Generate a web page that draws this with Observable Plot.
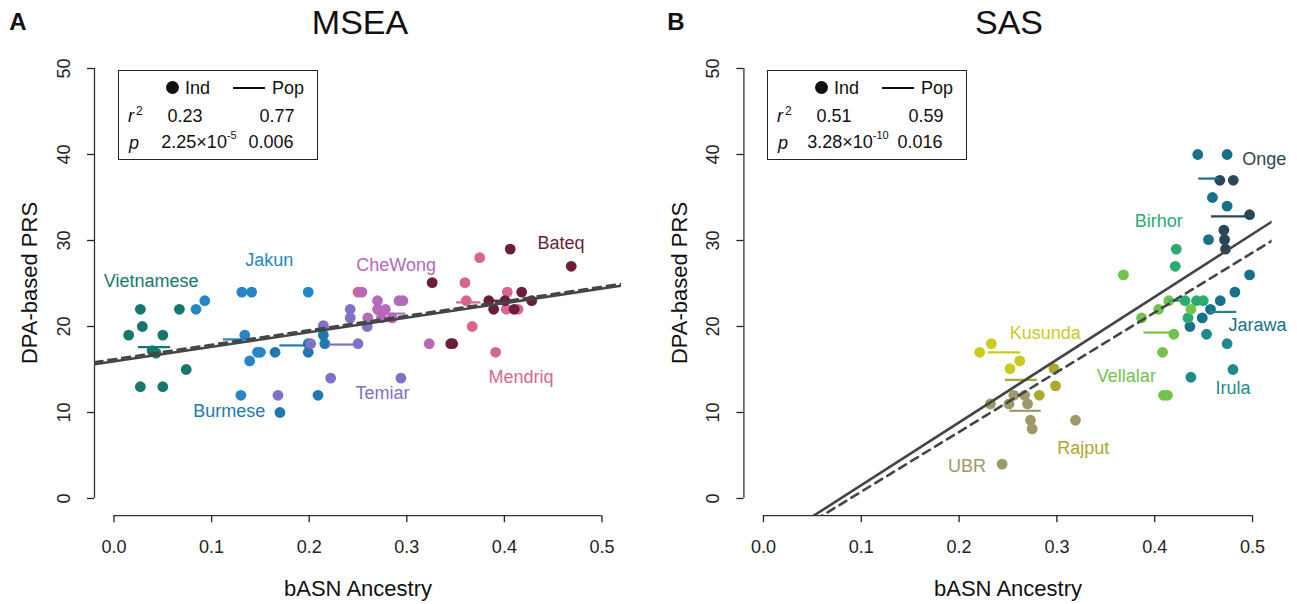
<!DOCTYPE html>
<html><head><meta charset="utf-8">
<script src="https://cdn.jsdelivr.net/npm/d3@7"></script>
<script src="https://cdn.jsdelivr.net/npm/@observablehq/plot@0.6"></script>
<style>
body{margin:0;background:#fff;font-family:"Liberation Sans",Arial,Helvetica,sans-serif;}
#root{position:relative;width:1297px;height:604px;overflow:hidden;background:#fff;}
.abs{position:absolute;white-space:nowrap;color:#111;line-height:1;}
.lg{position:absolute;border:1.5px solid #222;background:#fff;box-sizing:border-box;font-size:18px;color:#111;}
.lg div{position:absolute;white-space:nowrap;line-height:1;}
.lg sup{font-size:11px;position:relative;top:-3px;vertical-align:top;}
</style></head><body><div id="root"></div>
<script>
// ---------- shared axes ----------
const xTicks = [0, 0.1, 0.2, 0.3, 0.4, 0.5];
const yTicks = [0, 10, 20, 30, 40, 50];
const xDomain = [-0.02, 0.52];
const yDomain = [-2, 52];

// ---------- panel A : MSEA ----------
const mseaPops = ["Vietnamese","Jakun","Burmese","Temiar","Mendriq","CheWong","Bateq"];
const mseaColors = ["#16786d","#2486c6","#1f78b1","#7d72c6","#d8658f","#b469b9","#6b1e3c"];
const mseaIndPop = [
 "Vietnamese","Vietnamese","Vietnamese","Vietnamese","Vietnamese","Vietnamese","Vietnamese","Vietnamese","Vietnamese","Vietnamese",
 "Jakun","Jakun","Jakun","Jakun","Jakun","Jakun","Jakun","Jakun","Jakun","Jakun",
 "Burmese","Burmese","Burmese","Burmese","Burmese","Burmese","Burmese",
 "Temiar","Temiar","Temiar","Temiar","Temiar","Temiar","Temiar","Temiar","Temiar",
 "Mendriq","Mendriq","Mendriq","Mendriq","Mendriq","Mendriq","Mendriq","Mendriq","Mendriq",
 "CheWong","CheWong","CheWong","CheWong","CheWong","CheWong","CheWong","CheWong","CheWong","CheWong",
 "Bateq","Bateq","Bateq","Bateq","Bateq","Bateq","Bateq","Bateq","Bateq","Bateq","Bateq"];
const mseaIndX = [
 0.027,0.067,0.029,0.015,0.050,0.039,0.043,0.074,0.027,0.050,
 0.084,0.093,0.131,0.141,0.199,0.134,0.139,0.147,0.150,0.130,
 0.165,0.199,0.199,0.2145,0.216,0.170,0.209,
 0.2015,0.2145,0.250,0.222,0.294,0.168,0.242,0.242,0.2595,
 0.250,0.3747,0.3596,0.361,0.403,0.402,0.414,0.367,0.391,
 0.254,0.260,0.270,0.270,0.278,0.274,0.292,0.296,0.285,0.323,
 0.406,0.4685,0.326,0.345,0.347,0.4177,0.384,0.4006,0.389,0.410,0.428];
const mseaIndY = [
 22,22,20,19,19,17.2,16.9,15,13,13,
 22,23,24,24,24,19,16,17,17,12,
 17,18,17,19,18,10,12,
 18,20.1,18,14,14,12,22,21,20,
 24,28,25.1,23,24,22,22,20,17,
 24,21,23,22,22,21,23,23,21,18,
 29,27,25.1,18,18,24,23,23,22,22,23];
const mseaBarPop = ["Vietnamese","Jakun","Burmese","Temiar","CheWong","Mendriq","Bateq"];
const mseaBarX1 = [0.025,0.112,0.170,0.220,0.268,0.351,0.382];
const mseaBarX2 = [0.058,0.135,0.196,0.249,0.299,0.376,0.410];
const mseaBarY  = [17.6,18.5,17.8,17.9,21.5,22.8,23.0];
const mseaLabelPop = ["Vietnamese","Jakun","Burmese","CheWong","Temiar","Mendriq","Bateq"];
const mseaLabelX = [0.038,0.159,0.118,0.289,0.275,0.417,0.458];
const mseaLabelY = [25.3,27.7,10.2,27.1,12.2,14.1,29.7];
const mseaFitType = ["Pop","Ind"];
const mseaFitIntercept = [15.94,16.19];
const mseaFitSlope = [16.94,16.85];
const mseaR2 = ["0.23","0.77"];
const mseaP = ["2.25×10<sup>-5</sup>","0.006"];

// ---------- panel B : SAS ----------
const sasPops = ["Onge","Jarawa","Irula","Birhor","Vellalar","Kusunda","Rajput","UBR"];
const sasColors = ["#2c4659","#19708a","#1f8a8c","#2bab6f","#72c24b","#c9cc1d","#aaa830","#9e9968"];
const sasIndPop = [
 "Onge","Onge","Onge","Onge","Onge","Onge",
 "Jarawa","Jarawa","Jarawa","Jarawa","Jarawa","Jarawa","Jarawa","Jarawa","Jarawa","Jarawa","Jarawa",
 "Irula","Irula","Irula","Irula",
 "Birhor","Birhor","Birhor","Birhor","Birhor","Birhor",
 "Vellalar","Vellalar","Vellalar","Vellalar","Vellalar","Vellalar","Vellalar","Vellalar","Vellalar",
 "Kusunda","Kusunda","Kusunda","Kusunda",
 "Rajput","Rajput","Rajput",
 "UBR","UBR","UBR","UBR","UBR","UBR","UBR","UBR","UBR"];
const sasIndX = [
 0.4666,0.4803,0.497,0.4707,0.4714,0.4724,
 0.444,0.474,0.459,0.474,0.455,0.497,0.482,0.467,0.457,0.4486,0.436,
 0.453,0.474,0.480,0.437,
 0.422,0.421,0.431,0.4427,0.4496,0.434,
 0.368,0.4144,0.404,0.437,0.3865,0.4195,0.408,0.409,0.413,
 0.233,0.221,0.262,0.252,
 0.2986,0.282,0.297,
 0.256,0.267,0.232,0.251,0.270,0.273,0.2747,0.319,0.244];
const sasIndY = [
 37,37,33,31.2,30.1,29,
 40,40,35,34,30.1,26,24,23,22,21,20,
 19.1,18,15,14.1,
 29,27,23,23,23,21,
 26,23,22,22,21,19.1,17,12,12,
 18,17,16,15.1,
 13.1,12,15.1,
 12,12,11,11,11,9.1,8.1,9.1,4];
const sasBarPop = ["Onge","Jarawa","Irula","Birhor","Vellalar","Kusunda","Rajput","UBR"];
const sasBarX1 = [0.458,0.445,0.457,0.415,0.389,0.230,0.2474,0.252];
const sasBarX2 = [0.497,0.4666,0.484,0.433,0.419,0.263,0.280,0.284];
const sasBarY  = [32.8,37.2,21.7,23.0,19.3,17.0,13.8,10.2];
const sasLabelPop = ["Onge","Birhor","Jarawa","Kusunda","Vellalar","Irula","Rajput","UBR"];
const sasLabelX = [0.512,0.404,0.505,0.288,0.371,0.480,0.327,0.208];
const sasLabelY = [39.4,32.2,20.1,19.2,14.2,12.8,5.8,3.7];
const sasFitType = ["Pop","Ind"];
const sasFitIntercept = [-5.75,-6.16];
const sasFitSlope = [73.0,69.5];
const sasR2 = ["0.51","0.59"];
const sasP = ["3.28×10<sup>-10</sup>","0.016"];

const FONT = '"Liberation Sans", Arial, Helvetica, sans-serif';
const root = document.getElementById("root");

function panel(cfg) {
  const inds = cfg.indPop.map((p, i) => ({pop: p, x: cfg.indX[i], y: cfg.indY[i]}));
  const bars = cfg.barPop.map((p, i) => ({pop: p, x1: cfg.barX1[i], x2: cfg.barX2[i], y: cfg.barY[i]}));
  const labels = cfg.labelPop.map((p, i) => ({pop: p, x: cfg.labelX[i], y: cfg.labelY[i]}));
  const fits = cfg.fitType.flatMap((t, i) => xDomain.map(x => ({type: t, x, y: cfg.fitIntercept[i] + cfg.fitSlope[i] * x})));
  const svg = Plot.plot({
    width: cfg.width, height: 604,
    marginLeft: cfg.marginLeft, marginRight: cfg.marginRight, marginTop: 50.8, marginBottom: 88.8,
    x: {domain: xDomain},
    y: {domain: yDomain},
    color: {domain: cfg.pops, range: cfg.colors},
    style: {position: "absolute", left: cfg.left + "px", top: "0px", fontFamily: FONT, fontSize: "18px", color: "#222", background: "none", overflow: "visible"},
    marks: [
      Plot.ruleY([yDomain[0]], {x1: xTicks[0], x2: xTicks[xTicks.length - 1], stroke: "#333", strokeWidth: 1.3}),
      Plot.ruleX([xDomain[0]], {y1: yTicks[0], y2: yTicks[yTicks.length - 1], stroke: "#333", strokeWidth: 1.3}),
      Plot.axisX({ticks: xTicks, tickSize: 7, tickPadding: 18, tickFormat: d3.format(".1f"), label: null, strokeWidth: 1.3}),
      Plot.axisY({ticks: yTicks, tickSize: 7, tickPadding: 18, tickRotate: -90, label: null, strokeWidth: 1.3}),
      Plot.dot(inds, {x: "x", y: "y", fill: "pop", r: 5.4}),
      Plot.ruleY(bars, {x1: "x1", x2: "x2", y: "y", stroke: "pop", strokeWidth: 2.2}),
      Plot.line(fits.filter(d => d.type === "Pop"), {x: "x", y: "y", stroke: "#454545", strokeWidth: 2.6, clip: true}),
      Plot.line(fits.filter(d => d.type === "Ind"), {x: "x", y: "y", stroke: "#454545", strokeWidth: 2.6, strokeDasharray: "8,6", clip: true}),
      Plot.text(labels, {x: "x", y: "y", text: "pop", fill: "pop", fontSize: 18})
    ]
  });
  root.appendChild(svg);
}

panel({width: 648, left: 0, marginLeft: 94, marginRight: 27,
  pops: mseaPops, colors: mseaColors, indPop: mseaIndPop, indX: mseaIndX, indY: mseaIndY,
  barPop: mseaBarPop, barX1: mseaBarX1, barX2: mseaBarX2, barY: mseaBarY,
  labelPop: mseaLabelPop, labelX: mseaLabelX, labelY: mseaLabelY,
  fitType: mseaFitType, fitIntercept: mseaFitIntercept, fitSlope: mseaFitSlope});
panel({width: 649, left: 648, marginLeft: 95.4, marginRight: 25.4,
  pops: sasPops, colors: sasColors, indPop: sasIndPop, indX: sasIndX, indY: sasIndY,
  barPop: sasBarPop, barX1: sasBarX1, barX2: sasBarX2, barY: sasBarY,
  labelPop: sasLabelPop, labelX: sasLabelX, labelY: sasLabelY,
  fitType: sasFitType, fitIntercept: sasFitIntercept, fitSlope: sasFitSlope});

function addText(txt, x, y, css, rotate) {
  const d = document.createElement("div");
  d.className = "abs";
  d.innerHTML = txt;
  d.style.left = x + "px"; d.style.top = y + "px";
  d.style.transform = "translate(-50%,-50%)" + (rotate ? " rotate(" + rotate + "deg)" : "");
  Object.assign(d.style, css || {});
  root.appendChild(d);
}
// titles & axis titles
addText("MSEA", 360, 22, {fontSize: "34px"});
addText("SAS", 1009, 22, {fontSize: "34px"});
addText("A", 18, 22, {fontSize: "24px", fontWeight: "bold"});
addText("B", 676, 22, {fontSize: "24px", fontWeight: "bold"});
addText("bASN Ancestry", 358, 589, {fontSize: "22px"});
addText("bASN Ancestry", 1008, 589, {fontSize: "22px"});
addText("DPA-based PRS", 30, 283, {fontSize: "22px"}, -90);
addText("DPA-based PRS", 680, 283, {fontSize: "22px"}, -90);

function legend(left, r2, p) {
  const b = document.createElement("div");
  b.className = "lg";
  Object.assign(b.style, {left: left + "px", top: "70px", width: "200px", height: "90px"});
  const put = (html, x, y, anchor) => {
    const d = document.createElement("div");
    d.innerHTML = html;
    d.style.left = x + "px"; d.style.top = y + "px";
    d.style.transform = anchor === "c" ? "translate(-50%,-50%)" : "translate(0,-50%)";
    b.appendChild(d);
  };
  const dot = document.createElement("div");
  Object.assign(dot.style, {left: "47px", top: "10px", width: "13px", height: "13px", borderRadius: "50%", background: "#111"});
  b.appendChild(dot);
  const ln = document.createElement("div");
  Object.assign(ln.style, {left: "114px", top: "16px", width: "32px", height: "0", borderTop: "2px solid #111"});
  b.appendChild(ln);
  put("Ind", 66, 17);
  put("Pop", 153, 17);
  put("<i>r</i><sup style='font-size:12px;top:-2px;margin-left:2px'>2</sup>", 9, 45);
  put(r2[0], 66, 45, "c");
  put(r2[1], 158, 45, "c");
  put("<i>p</i>", 10, 72);
  put(p[0], 80, 71, "c");
  put(p[1], 152, 71, "c");
  root.appendChild(b);
}
legend(118, mseaR2, mseaP);
legend(767, sasR2, sasP);
</script></body></html>
